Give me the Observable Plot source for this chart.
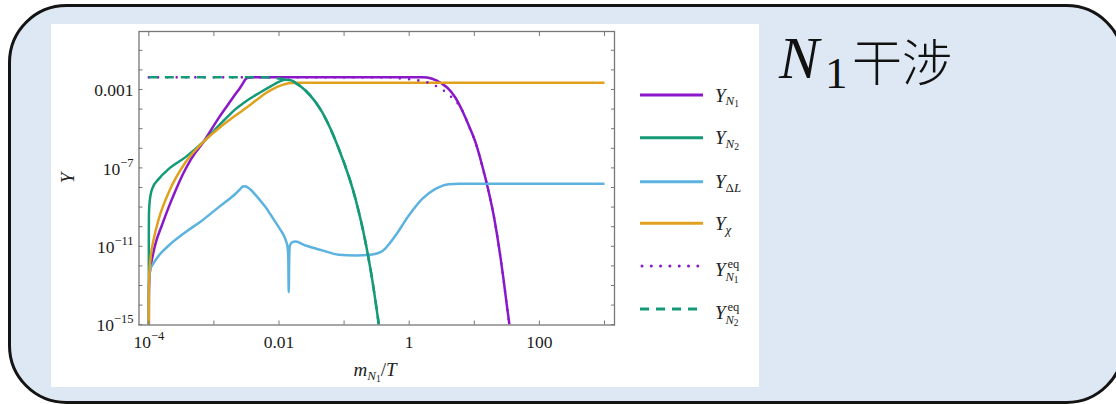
<!DOCTYPE html>
<html>
<head>
<meta charset="utf-8">
<script src="https://cdn.jsdelivr.net/npm/d3@7"></script>
<script src="https://cdn.jsdelivr.net/npm/@observablehq/plot@0.6"></script>
<style>
  html, body { margin:0; padding:0; width:1116px; height:404px; overflow:hidden; background:#ffffff; }
  #bg { position:absolute; left:0; top:0; }
  #panel { position:absolute; left:51px; top:24px; width:708px; height:363px; background:#ffffff; }
  #panel svg { display:block; }
  #overlay { position:absolute; left:0; top:0; }
</style>
</head>
<body>
<svg id="bg" width="1116" height="404" xmlns="http://www.w3.org/2000/svg">
  <rect x="9.5" y="5.5" width="1114" height="397" rx="57" ry="57" fill="#dde8f4" stroke="#141414" stroke-width="3"/>
</svg>
<div id="panel"></div>
<svg id="overlay" width="1116" height="404" xmlns="http://www.w3.org/2000/svg"></svg>
<script>
// ---------------- data (log10 of m_N1/T and log10 of Y) ----------------
const lxN1 = [-4, -3.9985, -3.99, -3.97, -3.95, -3.9, -3.8, -3.7, -3.6, -3.48, -3.36, -3.155, -2.925, -2.8, -2.668, -2.6, -2.55, -2.52, -2.49, -2.45, -2.4, -1.0, 0.2, 0.353, 0.507, 0.608, 0.711, 0.814, 0.916, 1.018, 1.121, 1.223, 1.3, 1.4, 1.45, 1.5, 1.54];
const lyN1 = [-15, -13.5, -12.6, -12.0, -11.64, -10.9, -9.94, -9.05, -8.24, -7.35, -6.6, -5.65, -4.45, -3.85, -3.23, -2.92, -2.66, -2.50, -2.42, -2.385, -2.38, -2.38, -2.38, -2.45, -2.71, -2.98, -3.42, -4.07, -4.84, -5.69, -6.88, -8.24, -9.45, -11.5, -12.7, -14.0, -15];

const lxN2 = [-4, -3.9995, -3.998, -3.99, -3.974, -3.948, -3.846, -3.693, -3.436, -3.155, -2.925, -2.8, -2.668, -2.55, -2.45, -2.36, -2.284, -2.15, -2.054, -1.977, -1.90, -1.82, -1.747, -1.593, -1.337, -1.081, -0.825, -0.671, -0.568, -0.466];
const lyN2 = [-15, -10.5, -9.4, -8.85, -8.41, -8.07, -7.56, -7.05, -6.45, -5.65, -4.84, -4.42, -4.0, -3.7, -3.47, -3.29, -3.14, -2.88, -2.70, -2.57, -2.50, -2.53, -2.66, -3.05, -4.16, -6.03, -8.58, -10.79, -12.7, -15];

const lxDL = [-4, -3.9995, -3.997, -3.99, -3.974, -3.948, -3.846, -3.693, -3.436, -3.18, -2.925, -2.668, -2.60, -2.556, -2.52, -2.48, -2.438, -2.361, -2.284, -2.207, -2.13, -2.054, -1.98, -1.926, -1.89, -1.87, -1.858, -1.85, -1.842, -1.834, -1.80, -1.747, -1.593, -1.337, -1.081, -0.825, -0.568, -0.441, -0.364, -0.3, -0.210, -0.006, 0.200, 0.404, 0.608, 0.762, 3.0];
const lyDL = [-15, -13.6, -12.9, -12.5, -12.15, -11.98, -11.47, -10.96, -10.28, -9.68, -9.0, -8.32, -8.10, -7.95, -7.93, -8.0, -8.10, -8.38, -8.68, -9.0, -9.38, -9.77, -10.15, -10.45, -10.75, -11.0, -11.5, -13.34, -11.4, -10.98, -10.8, -10.76, -10.96, -11.21, -11.43, -11.47, -11.42, -11.30, -11.10, -10.85, -10.45, -9.43, -8.58, -8.07, -7.83, -7.81, -7.81];

const lxChi = [-4, -3.9985, -3.993, -3.974, -3.923, -3.846, -3.693, -3.436, -3.155, -2.873, -2.7, -2.565, -2.45, -2.36, -2.284, -2.2, -2.104, -2.0, -1.9, -1.8, -1.7, -1.6, 3.0];
const lyChi = [-15, -13.2, -12.5, -11.64, -10.62, -9.60, -8.24, -6.71, -5.65, -4.84, -4.40, -4.08, -3.80, -3.57, -3.38, -3.18, -2.99, -2.83, -2.72, -2.67, -2.66, -2.66, -2.66];

const lxEq1 = [-4, -0.3, -0.21, 0.0, 0.147, 0.30, 0.43, 0.53, 0.62, 0.71, 0.82, 0.916, 1.018, 1.121, 1.223, 1.3, 1.4, 1.45, 1.5, 1.54];
const lyEq1 = [-2.38, -2.38, -2.41, -2.48, -2.54, -2.66, -2.85, -3.05, -3.31, -3.56, -4.1, -4.86, -5.71, -6.9, -8.26, -9.47, -11.52, -12.72, -14.02, -15];

const lxEq2 = [-4, -2.25, -2.1, -2.0, -1.9, -1.82, -1.747, -1.593, -1.337, -1.081, -0.825, -0.671, -0.568, -0.466];
const lyEq2 = [-2.38, -2.38, -2.40, -2.44, -2.50, -2.53, -2.66, -3.05, -4.16, -6.03, -8.58, -10.79, -12.7, -15];

const xTicksMajor = [1e-4, 1e-2, 1, 100];
const xTickLabels = ["10^-4", "0.01", "1", "100"];
const xTicksAll = [1e-4, 1e-3, 1e-2, 1e-1, 1, 10, 100, 1000];
const yTicksMajor = [1e-15, 1e-11, 1e-7, 1e-3];
const yTickLabels = ["10^-15", "10^-11", "10^-7", "0.001"];
const yTicksAll = [1e-15, 1e-14, 1e-13, 1e-12, 1e-11, 1e-10, 1e-9, 1e-8, 1e-7, 1e-6, 1e-5, 1e-4, 1e-3, 1e-2, 1e-1];

// ---------------- styles ----------------
const seriesColors = ["#8a17c9", "#159a78", "#5cb3e0", "#e0a21e", "#8a17c9", "#159a78"];
const seriesDash = [null, null, null, null, "0,9.3", "9,7"];

const toPts = (lx, ly) => lx.map((v, i) => ({x: Math.pow(10, v), y: Math.pow(10, ly[i])}));
const series = [
  toPts(lxN1, lyN1), toPts(lxN2, lyN2), toPts(lxDL, lyDL),
  toPts(lxChi, lyChi), toPts(lxEq1, lyEq1), toPts(lxEq2, lyEq2)
];

const lookup = (vals, labels) => d => {
  const i = vals.findIndex(v => Math.abs(Math.log10(v) - Math.log10(d)) < 1e-6);
  return i >= 0 ? labels[i] : "";
};

const lineMarks = series.map((pts, i) => Plot.line(pts, {
  x: "x", y: "y",
  stroke: seriesColors[i],
  strokeWidth: i === 4 ? 2.6 : 2.5,
  strokeDasharray: seriesDash[i] || undefined,
  strokeLinecap: i === 4 ? "round" : "butt",
  curve: "monotone-x",
  clip: true
}));

const tickColor = "#777777";
const chart = Plot.plot({
  width: 708, height: 363,
  marginLeft: 87.5, marginRight: 145, marginTop: 7, marginBottom: 62.5,
  x: {type: "log", domain: [Math.pow(10, -4.1505), Math.pow(10, 3.154)], label: null},
  y: {type: "log", domain: [Math.pow(10, -15.015), Math.pow(10, -0.041)], label: null},
  style: {fontFamily: "'Liberation Serif', 'Times New Roman', serif", fontSize: "17.5px", background: "transparent", color: "#1a1a1a"},
  marks: [
    ...lineMarks,
    Plot.frame({stroke: tickColor, strokeWidth: 1.3}),
    Plot.axisX(xTicksAll, {anchor: "bottom", tickSize: -4, stroke: tickColor, tickFormat: () => ""}),
    Plot.axisX(xTicksAll, {anchor: "top", tickSize: -4, stroke: tickColor, tickFormat: () => ""}),
    Plot.axisY(yTicksAll, {anchor: "left", tickSize: -4, stroke: tickColor, tickFormat: () => ""}),
    Plot.axisY(yTicksAll, {anchor: "right", tickSize: -4, stroke: tickColor, tickFormat: () => ""}),
    Plot.axisX(xTicksMajor, {anchor: "bottom", tickSize: 0, tickPadding: 10.4, fill: "#1a1a1a", tickFormat: lookup(xTicksMajor, xTickLabels)}),
    Plot.axisY(yTicksMajor, {anchor: "left", tickSize: 0, tickPadding: 5.5, dy: 1, fill: "#1a1a1a", tickFormat: lookup(yTicksMajor, yTickLabels)})
  ]
});

// superscripts for 10^n tick labels
chart.querySelectorAll("text").forEach(t => {
  const m = /^10\^(.+)$/.exec(t.textContent);
  if (m) {
    t.textContent = "10";
    const ts = document.createElementNS("http://www.w3.org/2000/svg", "tspan");
    ts.setAttribute("dy", "-8");
    ts.setAttribute("font-size", "12.5px");
    ts.textContent = m[1].replace("-", "\u2212");
    t.appendChild(ts);
  }
});
document.getElementById("panel").appendChild(chart);

// ---------------- overlay: title, axis labels, legend ----------------
const legendRowY = [95, 137.7, 181.7, 223.3, 266, 309];
const legendLabels = [
  `<tspan font-style="italic">Y</tspan><tspan font-style="italic" font-size="13" dy="3.5">N</tspan><tspan font-size="9.5" dy="2">1</tspan>`,
  `<tspan font-style="italic">Y</tspan><tspan font-style="italic" font-size="13" dy="3.5">N</tspan><tspan font-size="9.5" dy="2">2</tspan>`,
  `<tspan font-style="italic">Y</tspan><tspan font-size="13" dy="3.5">Δ</tspan><tspan font-style="italic" font-size="13">L</tspan>`,
  `<tspan font-style="italic">Y</tspan><tspan font-style="italic" font-size="13" dy="3.5">χ</tspan>`,
  `<tspan font-style="italic">Y</tspan><tspan x="727.5" dy="-8.5" font-size="12.5">eq</tspan><tspan x="725.5" dy="13.5" font-style="italic" font-size="12.5">N</tspan><tspan font-size="9.5" dy="1.5">1</tspan>`,
  `<tspan font-style="italic">Y</tspan><tspan x="727.5" dy="-8.5" font-size="12.5">eq</tspan><tspan x="725.5" dy="13.5" font-style="italic" font-size="12.5">N</tspan><tspan font-size="9.5" dy="1.5">2</tspan>`
];
const serif = "'Liberation Serif', 'Times New Roman', serif";
let ov = "";
legendRowY.forEach((y, i) => {
  const dash = seriesDash[i] ? ` stroke-dasharray="${i === 4 ? "0,9.3" : "9,7"}"` : "";
  const cap = i === 4 ? "round" : "butt";
  const x1 = i === 4 ? 642 : 640, x2 = i === 4 ? 700 : 703;
  ov += `<line x1="${x1}" x2="${x2}" y1="${y}" y2="${y}" stroke="${seriesColors[i]}" stroke-width="3" stroke-linecap="${cap}"${dash}/>`;
  const by = i >= 4 ? y + 10 : y + 6.7;
  ov += `<text x="715" y="${by}" font-family="${serif}" font-size="19" fill="#222">${legendLabels[i]}</text>`;
});
// axis labels
ov += `<text x="375" y="376" text-anchor="middle" font-family="${serif}" font-size="19" fill="#222"><tspan font-style="italic">m</tspan><tspan font-style="italic" font-size="13" dy="4">N</tspan><tspan font-size="9.5" dy="2">1</tspan><tspan dy="-6">/</tspan><tspan font-style="italic">T</tspan></text>`;
ov += `<text transform="translate(74,178) rotate(-90)" text-anchor="middle" font-family="${serif}" font-style="italic" font-size="19" fill="#222">Y</text>`;
// title
ov += `<text x="779" y="78" font-family="${serif}" font-style="italic" font-size="60" fill="#111">N</text>`;
ov += `<text x="825" y="88" font-family="${serif}" font-size="45" fill="#111">1</text>`;
ov += `<text x="852" y="81" font-family="'Noto Sans CJK SC', sans-serif" font-weight="300" font-size="50" fill="#111">干涉</text>`;
document.getElementById("overlay").innerHTML = ov;
</script>
</body>
</html>
